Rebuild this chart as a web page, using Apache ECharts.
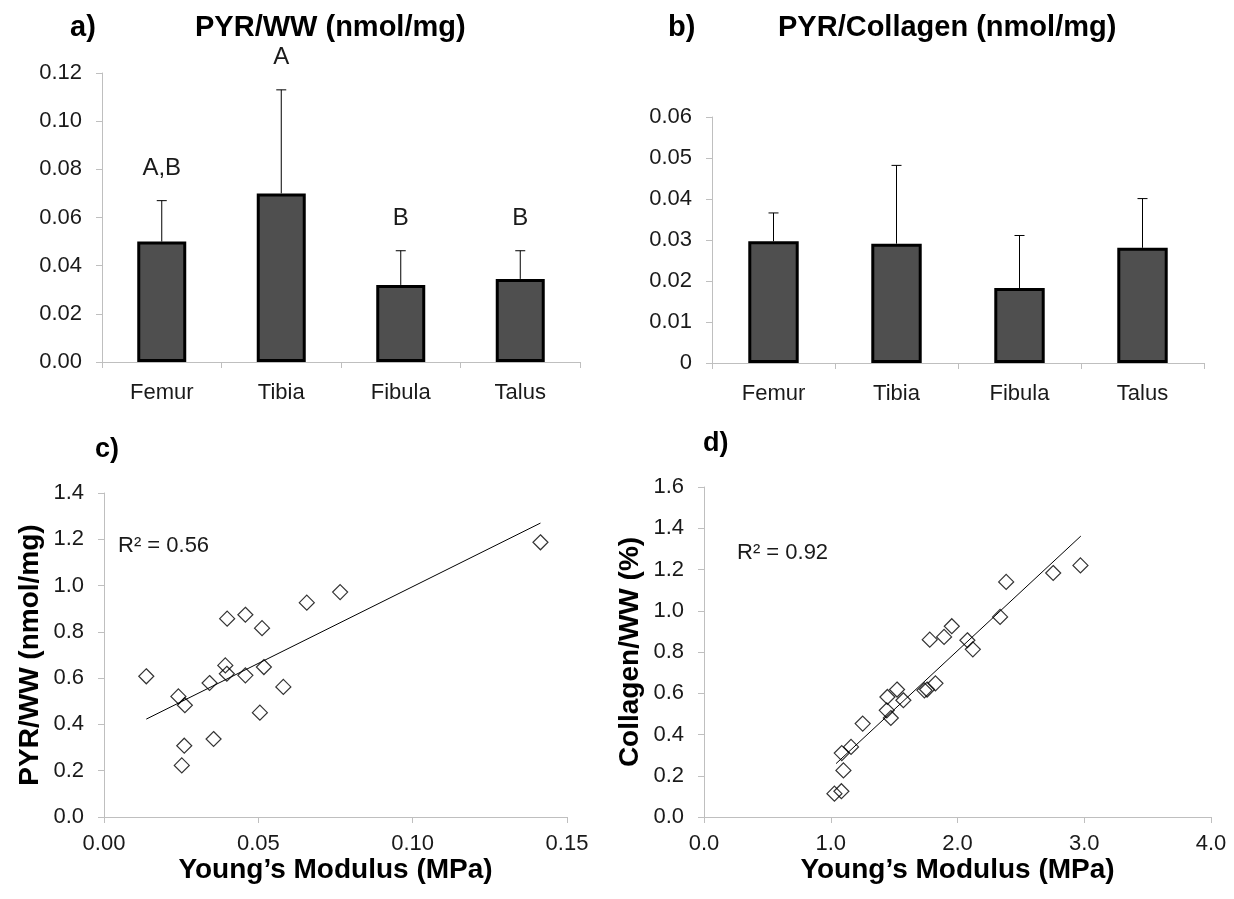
<!DOCTYPE html>
<html>
<head>
<meta charset="utf-8">
<script src="https://cdn.jsdelivr.net/npm/echarts@6/dist/echarts.min.js"></script>
<style>
html,body{margin:0;padding:0;background:#fff;}
#chart{width:1234px;height:899px;}
</style>
</head>
<body>
<div id="chart"></div>
<script>
// ---------- data ----------
const categories = ['Femur', 'Tibia', 'Fibula', 'Talus'];
// panel a: PYR/WW (nmol/mg)
const pyrWW = [0.050, 0.070, 0.032, 0.0345];
const pyrWWErrTop = [0.067, 0.113, 0.0462, 0.0462];
const sigLetters = ['A,B', 'A', 'B', 'B'];
// panel b: PYR/Collagen (nmol/mg)
const pyrColl = [0.0297, 0.0291, 0.0183, 0.0281];
const pyrCollErrTop = [0.0366, 0.0482, 0.0311, 0.0401];
// panel c: Young's modulus (MPa) vs PYR/WW (nmol/mg)
const modulusC = [0.0137, 0.0241, 0.0262, 0.0260, 0.0252, 0.0342, 0.0355, 0.0393, 0.0398, 0.0399,
                  0.0458, 0.0458, 0.0512, 0.0518, 0.0505, 0.0581, 0.0657, 0.0765, 0.1414];
const pyrWWC = [0.608, 0.521, 0.483, 0.308, 0.223, 0.579, 0.337, 0.655, 0.619, 0.857,
                0.874, 0.612, 0.816, 0.648, 0.451, 0.562, 0.926, 0.972, 1.187];
const trendC = [[0.0137, 0.423], [0.1414, 1.270]];
const r2C = 'R² = 0.56';
// panel d: Young's modulus (MPa) vs Collagen/WW (%)
const modulusD = [1.029, 1.084, 1.100, 1.087, 1.160, 1.252, 1.442, 1.474, 1.447, 1.523, 1.573,
                  1.739, 1.760, 1.826, 1.781, 1.894, 1.955, 2.078, 2.121, 2.336, 2.384, 2.755, 2.970];
const collWWD = [0.113, 0.125, 0.226, 0.310, 0.340, 0.453, 0.517, 0.480, 0.582, 0.618, 0.566,
                 0.614, 0.618, 0.648, 0.860, 0.873, 0.925, 0.857, 0.813, 0.970, 1.140, 1.183, 1.220];
const trendD = [[1.042, 0.259], [2.973, 1.362]];
const r2D = 'R² = 0.92';

// ---------- styling helpers ----------
const FONT = 'Liberation Sans, Arial, sans-serif';
const AX = '#bfbfbf';
const TXT = '#1a1a1a';
const tickFont = {color: TXT, fontSize: 22, fontFamily: FONT};
const nameFont = {fontSize: 28, fontWeight: 'bold', color: '#000', fontFamily: FONT};

function valueAxis(gi, min, max, interval, fmt, margin, extra) {
  return Object.assign({
    type: 'value', gridIndex: gi, min: min, max: max, interval: interval,
    axisLine: {show: true, lineStyle: {color: AX, width: 1}},
    axisTick: {show: true, length: 6, lineStyle: {color: AX}},
    splitLine: {show: false},
    axisLabel: Object.assign({margin: margin, formatter: fmt}, tickFont)
  }, extra || {});
}
function catAxis(gi) {
  return {
    type: 'category', gridIndex: gi, data: categories, boundaryGap: true,
    axisLine: {show: true, lineStyle: {color: AX, width: 1}},
    axisTick: {show: true, length: 6, alignWithLabel: false, lineStyle: {color: AX}},
    axisLabel: Object.assign({margin: 20}, tickFont)
  };
}
function errRender(letters) {
  return function (params, api) {
    const i = api.value(0);
    const p0 = api.coord([i, api.value(1)]);
    const p1 = api.coord([i, api.value(2)]);
    const ch = [
      {type: 'line', shape: {x1: p0[0], y1: p0[1], x2: p1[0], y2: p1[1]}, style: {stroke: '#000', lineWidth: 1}},
      {type: 'line', shape: {x1: p1[0] - 5, y1: p1[1], x2: p1[0] + 5, y2: p1[1]}, style: {stroke: '#000', lineWidth: 1}}
    ];
    if (letters) {
      ch.push({type: 'text', style: {text: letters[params.dataIndex], x: p1[0], y: p1[1] - 32,
        align: 'center', verticalAlign: 'middle', fill: TXT, font: '24px ' + FONT}});
    }
    return {type: 'group', children: ch};
  };
}
const barStyle = {color: '#4f4f4f', borderColor: '#000', borderWidth: 3};
const diamond = {color: 'rgba(0,0,0,0)', borderColor: '#000', borderWidth: 1.2};

const chart = echarts.init(document.getElementById('chart'), null, {renderer: 'canvas'});
chart.setOption({
  animation: false,
  backgroundColor: '#fff',
  grid: [
    {left: 102, right: 654, top: 73, bottom: 537, outerBoundsMode: 'none'},
    {left: 712, right: 30, top: 117, bottom: 536, outerBoundsMode: 'none'},
    {left: 104, right: 667, top: 493, bottom: 82, outerBoundsMode: 'none'},
    {left: 704, right: 23, top: 487, bottom: 82, outerBoundsMode: 'none'}
  ],
  xAxis: [
    catAxis(0),
    catAxis(1),
    valueAxis(2, 0, 0.15, 0.05, v => v.toFixed(2), 16, {
      name: 'Young\u2019s Modulus (MPa)', nameLocation: 'middle', nameGap: 38, nameTextStyle: nameFont}),
    valueAxis(3, 0, 4, 1, v => v.toFixed(1), 16, {
      name: 'Young\u2019s Modulus (MPa)', nameLocation: 'middle', nameGap: 38, nameTextStyle: nameFont})
  ],
  yAxis: [
    valueAxis(0, 0, 0.12, 0.02, v => v.toFixed(2), 20),
    valueAxis(1, 0, 0.06, 0.01, v => (v === 0 ? '0' : v.toFixed(2)), 20),
    valueAxis(2, 0, 1.4, 0.2, v => v.toFixed(1), 20, {
      name: 'PYR/WW (nmol/mg)', nameLocation: 'middle', nameGap: 60, nameRotate: 90, nameTextStyle: nameFont}),
    valueAxis(3, 0, 1.6, 0.2, v => v.toFixed(1), 20, {
      name: 'Collagen/WW (%)', nameLocation: 'middle', nameGap: 60, nameRotate: 90, nameTextStyle: nameFont})
  ],
  series: [
    {type: 'bar', xAxisIndex: 0, yAxisIndex: 0, data: pyrWW, barWidth: '41%', itemStyle: barStyle, z: 2},
    {type: 'custom', xAxisIndex: 0, yAxisIndex: 0, renderItem: errRender(sigLetters), z: 3,
     data: categories.map((c, i) => [i, pyrWW[i], pyrWWErrTop[i]])},
    {type: 'bar', xAxisIndex: 1, yAxisIndex: 1, data: pyrColl, barWidth: '41%', itemStyle: barStyle, z: 2},
    {type: 'custom', xAxisIndex: 1, yAxisIndex: 1, renderItem: errRender(null), z: 3,
     data: categories.map((c, i) => [i, pyrColl[i], pyrCollErrTop[i]])},
    {type: 'line', xAxisIndex: 2, yAxisIndex: 2, data: trendC, symbol: 'none',
     lineStyle: {color: '#000', width: 1}, z: 2},
    {type: 'scatter', xAxisIndex: 2, yAxisIndex: 2, symbol: 'diamond', symbolSize: [15, 15],
     itemStyle: diamond, data: modulusC.map((x, i) => [x, pyrWWC[i]]), z: 3},
    {type: 'line', xAxisIndex: 3, yAxisIndex: 3, data: trendD, symbol: 'none',
     lineStyle: {color: '#000', width: 1}, z: 2},
    {type: 'scatter', xAxisIndex: 3, yAxisIndex: 3, symbol: 'diamond', symbolSize: [15, 15],
     itemStyle: diamond, data: modulusD.map((x, i) => [x, collWWD[i]]), z: 3}
  ],
  graphic: [
    {type: 'text', left: 70, top: 13, style: {text: 'a)', font: 'bold 29px ' + FONT, fill: '#000'}},
    {type: 'text', left: 195, top: 13, style: {text: 'PYR/WW (nmol/mg)', font: 'bold 29px ' + FONT, fill: '#000'}},
    {type: 'text', left: 668, top: 13, style: {text: 'b)', font: 'bold 29px ' + FONT, fill: '#000'}},
    {type: 'text', left: 778, top: 13, style: {text: 'PYR/Collagen (nmol/mg)', font: 'bold 29px ' + FONT, fill: '#000'}},
    {type: 'text', left: 95, top: 436, style: {text: 'c)', font: 'bold 27px ' + FONT, fill: '#000'}},
    {type: 'text', left: 703, top: 430, style: {text: 'd)', font: 'bold 27px ' + FONT, fill: '#000'}},
    {type: 'text', left: 118, top: 535, style: {text: r2C, font: '22px ' + FONT, fill: TXT}},
    {type: 'text', left: 737, top: 542, style: {text: r2D, font: '22px ' + FONT, fill: TXT}}
  ]
});
</script>
</body>
</html>
